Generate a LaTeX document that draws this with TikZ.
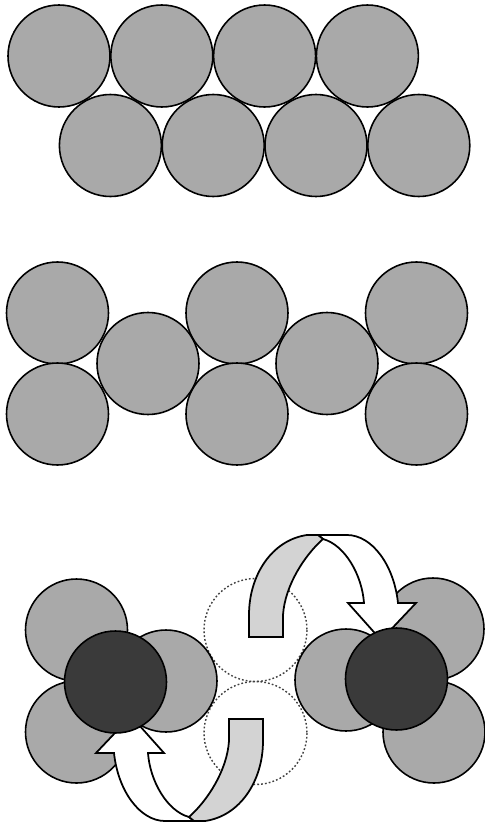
\documentclass[tikz,border=0pt]{standalone}
\definecolor{ballgray}{HTML}{A9A9A9}
\definecolor{darkball}{HTML}{3A3A3A}
\definecolor{ribbongray}{HTML}{D3D3D3}
\newcommand\ribbonarrow{%
  \path[ribbonback] (318,535) -- (347,535) .. controls (372,535) and (394,565) .. (398,603)
    -- (416,603) -- (381,640) -- (348,603) -- (364,603)
    .. controls (362,575) and (345,545) .. (323,539) -- cycle;
  \path[ribbonfront] (249,637) -- (249,615) .. controls (249,575) and (272,540) .. (307,535)
    -- (318,535) -- (323,539) .. controls (305,555) and (285,585) .. (283,615) -- (283,637) -- cycle;
}
\begin{document}
\begin{tikzpicture}[x=0.01cm,y=-0.01cm,
  ball/.style={fill=ballgray,draw=black,line width=0.45pt},
  darkone/.style={fill=darkball,draw=black,line width=0.45pt},
  ghost/.style={draw=black!75,line width=0.4pt,dash pattern=on 0.5pt off 0.6pt},
  ribbonback/.style={fill=white,draw=black,line width=0.5pt,line join=miter},
  ribbonfront/.style={fill=ribbongray,draw=black,line width=0.5pt,line join=miter}]
\useasboundingbox (0,0) rectangle (484,824);
% top section: two staggered rows
\foreach \k in {0,1,2,3}{
  \draw[ball] (59+102.8*\k,56) circle[radius=51];
  \draw[ball] (110.4+102.8*\k,145.5) circle[radius=51];
}
% middle section
\foreach \x in {57.5,237,416.5}{
  \draw[ball] (\x,313) circle[radius=51];
  \draw[ball] (\x,414) circle[radius=51];
}
\foreach \x in {148,327}{
  \draw[ball] (\x,363.5) circle[radius=51];
}
% bottom section
\draw[ghost] (255.5,630) circle[radius=51.5];
\draw[ghost] (255.5,733) circle[radius=51.5];
\draw[ball] (76.5,630) circle[radius=51];
\draw[ball] (76.5,732) circle[radius=51];
\draw[ball] (166,681) circle[radius=51];
\draw[ball] (433,629) circle[radius=51];
\draw[ball] (434,732) circle[radius=51];
\draw[ball] (346,680) circle[radius=51];
\ribbonarrow
\begin{scope}[rotate around={180:(256,678)}]
\ribbonarrow
\end{scope}
\draw[darkone] (115.5,682) circle[radius=51];
\draw[darkone] (396.5,679) circle[radius=51];
\end{tikzpicture}
\end{document}
